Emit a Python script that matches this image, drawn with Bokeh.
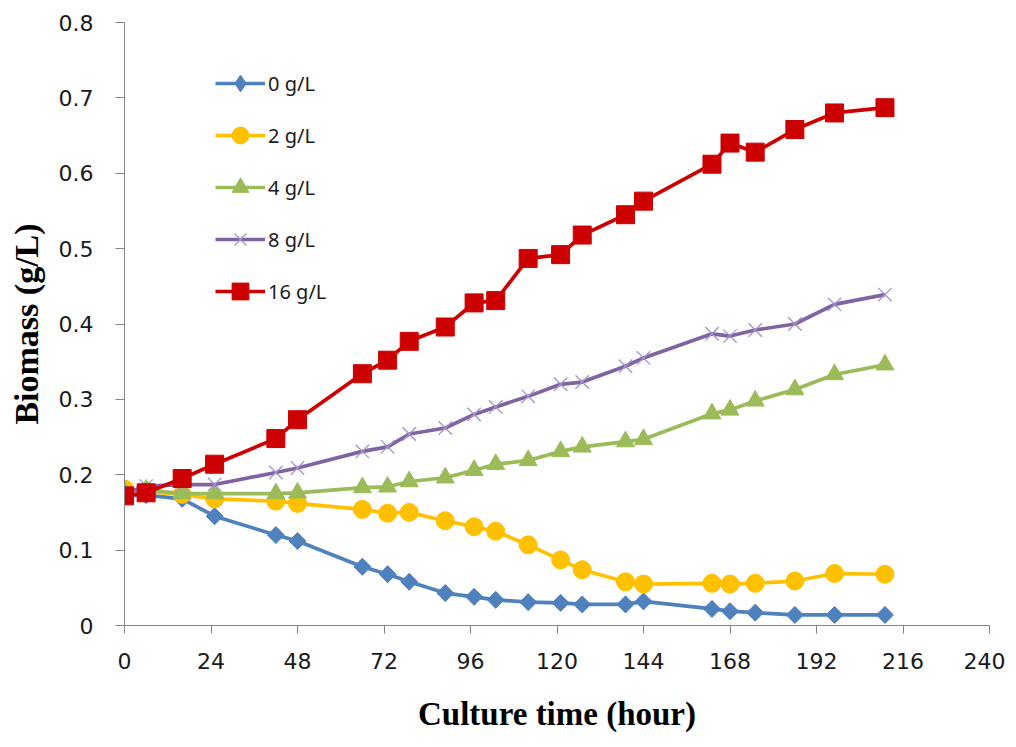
import math
from bokeh.plotting import figure
from bokeh.models import FixedTicker, Range1d
from bokeh.embed import file_html
from bokeh.resources import INLINE

# ---- data ----
time_h = [0, 6, 16, 25, 42, 48, 66, 73, 79, 89, 97, 103, 112, 121, 127, 139, 144, 163, 168, 175, 186, 197, 211]
g0 = [0.172, 0.173, 0.168, 0.145, 0.120, 0.112, 0.078, 0.068, 0.058, 0.043, 0.038, 0.034, 0.031, 0.030, 0.028, 0.028, 0.032, 0.022, 0.019, 0.017, 0.014, 0.014, 0.014]
g2 = [0.181, 0.178, 0.174, 0.168, 0.165, 0.162, 0.154, 0.149, 0.150, 0.139, 0.131, 0.125, 0.107, 0.087, 0.074, 0.058, 0.055, 0.056, 0.055, 0.056, 0.059, 0.069, 0.068]
g4 = [0.178, 0.180, 0.175, 0.175, 0.175, 0.176, 0.183, 0.184, 0.191, 0.196, 0.206, 0.214, 0.219, 0.231, 0.237, 0.244, 0.247, 0.281, 0.286, 0.298, 0.313, 0.333, 0.346]
g8 = [0.175, 0.185, 0.187, 0.187, 0.203, 0.209, 0.231, 0.237, 0.254, 0.262, 0.280, 0.290, 0.304, 0.320, 0.323, 0.344, 0.355, 0.387, 0.384, 0.392, 0.400, 0.426, 0.439]
g16 = [0.172, 0.176, 0.195, 0.214, 0.248, 0.273, 0.334, 0.352, 0.377, 0.396, 0.428, 0.431, 0.487, 0.492, 0.518, 0.545, 0.563, 0.612, 0.640, 0.628, 0.658, 0.680, 0.687]

labels = ["0 g/L", "2 g/L", "4 g/L", "8 g/L", "16 g/L"]
x_ticks = [0, 24, 48, 72, 96, 120, 144, 168, 192, 216, 240]
y_ticks = [0, 0.1, 0.2, 0.3, 0.4, 0.5, 0.6, 0.7, 0.8]

p = figure(width=1005, height=745, output_backend="svg", toolbar_location=None,
           x_range=Range1d(0, 240), y_range=Range1d(0, 0.8),
           min_border_left=124, min_border_top=22, min_border_right=16, min_border_bottom=120)
p.outline_line_color = None
p.xgrid.grid_line_color = None
p.ygrid.grid_line_color = None
p.background_fill_color = "white"

series = [
    (g0, labels[0], "#4F81BD", dict(marker="square", size=12, angle=math.pi / 4)),
    (g2, labels[1], "#FFC000", dict(marker="circle", size=18)),
    (g4, labels[2], "#9BBB59", dict(marker="triangle", size=18)),
    (g8, labels[3], "#8064A2", dict(marker="x", size=19)),
    (g16, labels[4], "#CC0000", dict(marker="square", size=18)),
]
for ys, lab, col, mk in series:
    p.line(time_h, ys, line_color=col, line_width=3.7, legend_label=lab)
    if mk["marker"] == "x":
        p.scatter(time_h, ys, line_color="#A494CC", line_width=1.3, legend_label=lab, **mk)
    elif "angle" in mk:
        # diamond sample for the legend (sits fully under the rotated squares)
        p.scatter(time_h, ys, marker="diamond", size=16, fill_color=col, line_color=col,
                  legend_label=lab)
        p.scatter(time_h, ys, fill_color=col, line_color=col, line_width=1, **mk)
    else:
        p.scatter(time_h, ys, fill_color=col, line_color=col, line_width=1, legend_label=lab, **mk)

axis_col = "#868686"
for ax in (p.xaxis[0], p.yaxis[0]):
    ax.axis_line_color = axis_col
    ax.major_tick_line_color = axis_col
    ax.minor_tick_line_color = None
    ax.major_tick_in = 0
    ax.major_label_text_font = "DejaVu Sans"
    ax.major_label_text_font_size = "22px"
    ax.major_label_text_color = "#1a1a1a"
    ax.axis_label_text_font = "Liberation Serif"
    ax.axis_label_text_font_style = "bold"
    ax.axis_label_text_color = "black"

p.xaxis.axis_label_text_font_size = "33px"
p.yaxis.axis_label_text_font_size = "34px"
p.xaxis.ticker = FixedTicker(ticks=x_ticks)
p.yaxis.ticker = FixedTicker(ticks=y_ticks)
p.yaxis.major_label_overrides = {0: "0"}
p.xaxis.major_tick_out = 8
p.yaxis.major_tick_out = 9
p.xaxis.major_label_standoff = 19
p.yaxis.major_label_standoff = 22
p.xaxis.axis_label = "Culture time (hour)"
p.yaxis.axis_label = "Biomass (g/L)"
p.xaxis.axis_label_standoff = 24
p.yaxis.axis_label_standoff = 11

lg = p.legend[0]
lg.location = (91, 313)
lg.padding = 0
lg.margin = 0
lg.spacing = 10
lg.glyph_width = 50
lg.glyph_height = 42
lg.label_height = 42
lg.label_standoff = 3
lg.label_text_font = "Noto Sans"
lg.label_text_font_size = "20px"
lg.label_text_color = "#1a1a1a"
lg.background_fill_alpha = 0
lg.border_line_alpha = 0

open("out.html", "w").write(file_html(p, INLINE))
